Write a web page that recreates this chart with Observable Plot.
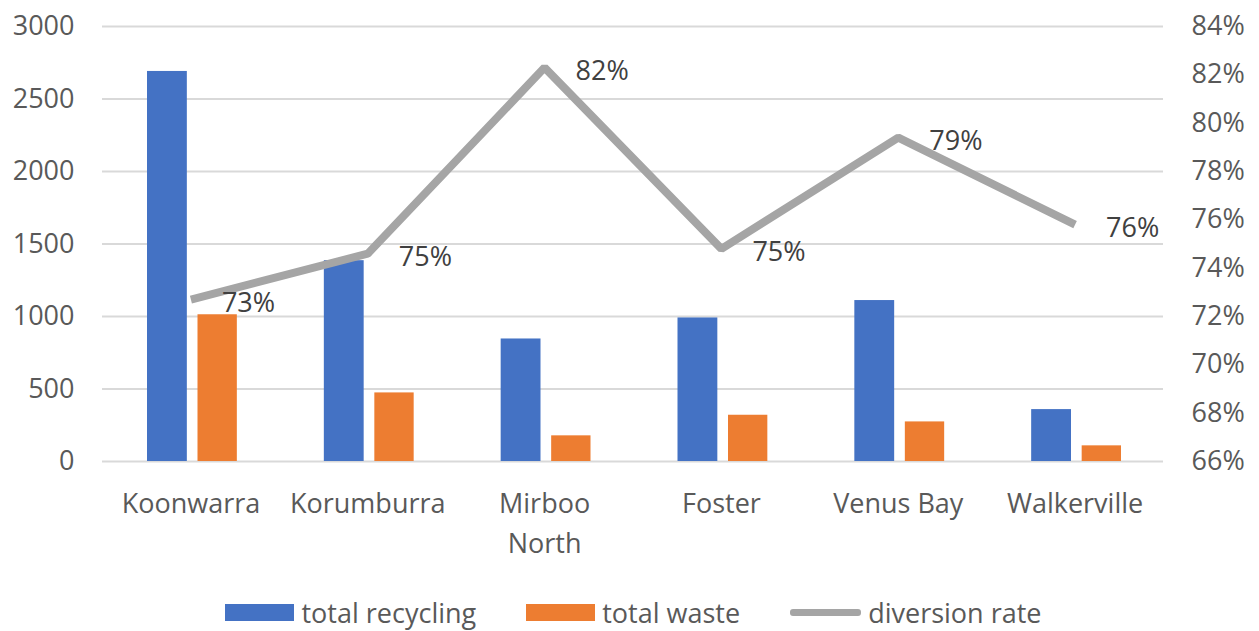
<!DOCTYPE html>
<html>
<head>
<meta charset="utf-8">
<script src="https://cdn.jsdelivr.net/npm/d3@7"></script>
<script src="https://cdn.jsdelivr.net/npm/@observablehq/plot@0.6"></script>
<style>
  html, body { margin: 0; padding: 0; background: #ffffff; }
  body { width: 1259px; height: 631px; position: relative; overflow: hidden; font-family: "Open Sans", sans-serif; }
  #chart { position: absolute; left: 0; top: 0; width: 1259px; height: 580px; }
  #chart svg { position: absolute; left: 0; top: 0; }
  #legend { position: absolute; left: 4px; top: 594px; width: 1259px; display: flex; justify-content: center; align-items: center; gap: 50px; color: #595959; font-size: 27px; }
  .item { display: flex; align-items: center; gap: 7px; }
  .sw { width: 69px; height: 17px; }
  .ln { width: 71px; height: 7px; border-radius: 3px; }
</style>
</head>
<body>
<div id="chart"></div>
<div id="legend"></div>
<script>
// ---- data ----
const categories = ["Koonwarra", "Korumburra", "Mirboo\nNorth", "Foster", "Venus Bay", "Walkerville"];
const totalRecycling = [2690, 1385, 845, 990, 1110, 358];
const totalWaste = [1012, 473, 177, 319, 273, 108];
const diversionRate = [72.7, 74.6, 82.3, 74.8, 79.4, 75.8];
const leftTicks = [0, 500, 1000, 1500, 2000, 2500, 3000];
const rightTicks = [66, 68, 70, 72, 74, 76, 78, 80, 82, 84];
const seriesNames = ["total recycling", "total waste", "diversion rate"];
const seriesColors = ["#4472C4", "#ED7D31", "#A5A5A5"];

const rows = categories.map((c, i) => ({category: c, recycling: totalRecycling[i], waste: totalWaste[i], rate: diversionRate[i]}));

const W = 1259, H = 580;
const common = {
  width: W, height: H,
  marginLeft: 102, marginRight: 96, marginTop: 26, marginBottom: 119,
  style: {fontFamily: "Open Sans, sans-serif", fontSize: "27px", color: "#595959", background: "transparent"}
};

const barsPlot = Plot.plot({
  ...common,
  x: {type: "band", domain: categories, padding: 0, round: false},
  y: {domain: [0, 3000]},
  marks: [
    Plot.gridY(leftTicks, {stroke: "#D9D9D9", strokeOpacity: 1, strokeWidth: 2}),
    Plot.barY(rows, {x: "category", y: "recycling", fill: seriesColors[0], insetLeft: 45, insetRight: 92}),
    Plot.barY(rows, {x: "category", y: "waste", fill: seriesColors[1], insetLeft: 95.5, insetRight: 42}),
    Plot.axisY({ticks: leftTicks, tickFormat: d => String(d), tickSize: 0, tickPadding: 28, label: null}),
    Plot.axisX({tickSize: 0, tickPadding: 23, lineHeight: 1.48, label: null})
  ]
});

const linePlot = Plot.plot({
  ...common,
  x: {type: "point", domain: categories, padding: 0.5, round: false, axis: null},
  y: {domain: [66, 84]},
  marks: [
    Plot.line(rows, {x: "category", y: "rate", stroke: seriesColors[2], strokeWidth: 8, strokeLinejoin: "miter", strokeLinecap: "butt"}),
    Plot.text(rows, {x: "category", y: "rate", text: d => Math.round(d.rate) + "%", textAnchor: "start", dx: 31, dy: 4, fill: "#404040", fontSize: 27}),
    Plot.axisY({anchor: "right", ticks: rightTicks, tickFormat: d => d + "%", tickSize: 0, tickPadding: 28, label: null})
  ]
});

const chart = document.getElementById("chart");
chart.appendChild(barsPlot);
chart.appendChild(linePlot);

// ---- legend ----
const legend = document.getElementById("legend");
seriesNames.forEach((name, i) => {
  const item = document.createElement("div");
  item.className = "item";
  const sw = document.createElement("div");
  sw.className = i === 2 ? "ln" : "sw";
  sw.style.background = seriesColors[i];
  const t = document.createElement("span");
  t.textContent = name;
  item.appendChild(sw);
  item.appendChild(t);
  legend.appendChild(item);
});
</script>
</body>
</html>
